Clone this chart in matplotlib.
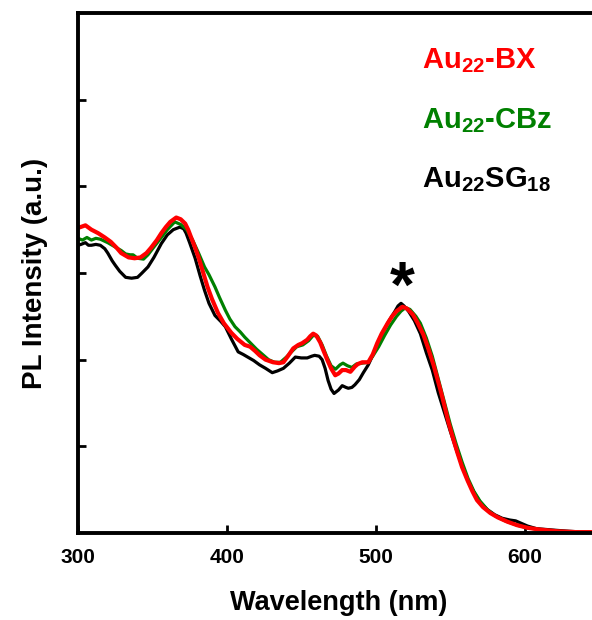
import numpy as np
import matplotlib
matplotlib.use("Agg")
import matplotlib.pyplot as plt

plt.rcParams['font.family'] = ['Liberation Sans', 'DejaVu Sans']
plt.rcParams['font.weight'] = 'bold'
plt.rcParams['mathtext.fontset'] = 'custom'
for k in ['rm', 'it', 'bf', 'sf']:
    plt.rcParams['mathtext.' + k] = 'Liberation Sans:bold'

# wavelength (nm) / intensity (a.u.)
red_wl = [300, 305, 309, 313.5, 318, 322, 326, 329, 334, 338, 342, 346, 349, 353, 356, 359, 362, 366, 369,
          372, 374, 376, 378.5, 381, 384, 387, 390, 394, 398, 403, 407, 412, 415.6, 419, 422, 426, 431, 435,
          438, 441, 444.6, 448, 450.6, 454, 456, 458, 460, 462.7, 465, 467.4, 470, 472.8, 475, 477.5, 480,
          483, 486, 488, 491, 495, 498, 501, 504, 508, 511, 514, 518, 521, 525, 528, 532, 535.5, 539, 543.5,
          546, 549, 552, 555, 558, 561.6, 565, 568, 572, 577, 582, 588.5, 595, 602, 610, 622, 635, 650]
red_int = [3.52, 3.55, 3.50, 3.46, 3.41, 3.36, 3.29, 3.23, 3.18, 3.17, 3.18, 3.23, 3.29, 3.38, 3.46, 3.53,
           3.59, 3.64, 3.62, 3.57, 3.50, 3.41, 3.30, 3.18, 3.01, 2.84, 2.70, 2.54, 2.42, 2.31, 2.24, 2.17,
           2.15, 2.10, 2.05, 2.00, 1.97, 1.96, 1.97, 2.04, 2.13, 2.17, 2.19, 2.23, 2.27, 2.30, 2.28, 2.20,
           2.10, 2.00, 1.90, 1.82, 1.84, 1.88, 1.88, 1.86, 1.92, 1.95, 1.97, 1.97, 2.06, 2.19, 2.30, 2.42,
           2.50, 2.56, 2.61, 2.59, 2.52, 2.43, 2.29, 2.12, 1.93, 1.65, 1.48, 1.27, 1.09, 0.92, 0.76, 0.61,
           0.48, 0.38, 0.30, 0.23, 0.18, 0.13, 0.09, 0.06, 0.04, 0.02, 0.01, 0.01]

green_wl = [300, 303, 306, 309, 312, 315, 320, 325, 329, 332, 335, 337, 340, 344, 347, 351, 356, 360, 365,
            369, 373, 377, 381, 385, 388, 392, 395, 399, 402, 405.5, 409, 412, 416, 420, 424, 428, 432, 436,
            440, 444, 447, 451, 455, 458, 461, 464, 467, 470, 473, 476, 478, 481, 484, 487, 491, 495, 498,
            502, 506, 510, 514, 517, 520, 523, 527, 530, 534, 538, 542, 546, 550, 554, 558, 562, 566, 570,
            575, 580, 587, 595, 602, 610, 622, 635, 650]
green_int = [3.40, 3.38, 3.41, 3.38, 3.40, 3.39, 3.35, 3.30, 3.26, 3.22, 3.21, 3.21, 3.17, 3.16, 3.21,
             3.30, 3.41, 3.50, 3.59, 3.56, 3.50, 3.38, 3.23, 3.07, 2.98, 2.84, 2.72, 2.57, 2.47, 2.38, 2.32,
             2.26, 2.19, 2.12, 2.06, 2.00, 1.97, 1.97, 2.03, 2.10, 2.15, 2.17, 2.22, 2.28, 2.27, 2.17, 2.04,
             1.93, 1.89, 1.94, 1.96, 1.93, 1.91, 1.95, 1.96, 1.97, 2.04, 2.15, 2.28, 2.40, 2.50, 2.56, 2.60,
             2.58, 2.50, 2.42, 2.25, 2.04, 1.78, 1.52, 1.26, 1.03, 0.82, 0.63, 0.48, 0.37, 0.27, 0.20, 0.14,
             0.09, 0.06, 0.04, 0.02, 0.01, 0.01]

black_wl = [300, 302, 305, 307, 309, 312, 315, 318, 320, 323, 325, 328, 332, 336, 340, 343, 347, 351, 356,
            360, 364, 368.5, 371, 372.6, 375, 378.7, 382, 385, 388, 392, 396, 399, 403, 407.6, 411, 414, 418,
            422, 426, 430.5, 434, 438, 442, 446, 450, 454, 457, 459, 462, 464, 466, 468, 470, 472, 475,
            477.5, 480, 481.6, 484, 486, 489, 491.7, 495, 498, 501, 505, 509, 513, 515, 517, 519, 522, 526,
            530, 534, 538, 542, 546, 550, 554, 558, 562, 566, 570, 575, 580, 585, 590, 594, 598, 602, 608,
            615, 622, 630, 640, 650]
black_int = [3.32, 3.33, 3.35, 3.32, 3.32, 3.33, 3.32, 3.28, 3.23, 3.14, 3.09, 3.02, 2.95, 2.94, 2.95,
             3.00, 3.07, 3.18, 3.34, 3.44, 3.50, 3.53, 3.51, 3.46, 3.35, 3.17, 2.97, 2.80, 2.65, 2.51, 2.44,
             2.38, 2.24, 2.09, 2.06, 2.03, 1.99, 1.94, 1.90, 1.85, 1.87, 1.90, 1.96, 2.03, 2.02, 2.02, 2.04,
             2.05, 2.04, 2.00, 1.90, 1.76, 1.66, 1.61, 1.65, 1.70, 1.68, 1.67, 1.68, 1.71, 1.77, 1.85, 1.94,
             2.05, 2.17, 2.32, 2.45, 2.56, 2.62, 2.65, 2.62, 2.56, 2.45, 2.30, 2.08, 1.88, 1.62, 1.40, 1.18,
             0.97, 0.78, 0.60, 0.47, 0.36, 0.27, 0.21, 0.17, 0.15, 0.14, 0.11, 0.08, 0.05, 0.04, 0.03, 0.02,
             0.01, 0.01]

labels = [r'Au$_{22}$-BX', r'Au$_{22}$-CBz', r'Au$_{22}$SG$_{18}$']
colors = ['#ff0000', '#008000', '#000000']

fig = plt.figure(figsize=(5.92, 6.2), dpi=100)
# the frame runs past the right edge of the picture (right spine cut off)
ax = fig.add_axes([78 / 592, 1 - 533 / 620, 521 / 592, 520 / 620])

ax.plot(black_wl, black_int, color='black', lw=2.3)
ax.plot(green_wl, green_int, color='#008000', lw=2.3)
ax.plot(red_wl, red_int, color='#ff0000', lw=3.0)

ax.set_xlim(300, 650)
ax.set_ylim(0, 6)
ax.set_xticks([300, 400, 500, 600])
ax.set_yticks([1, 2, 3, 4, 5])
ax.set_yticklabels([])
ax.tick_params(direction='in', length=5.5, width=2, labelsize=15, pad=11)
for s in ax.spines.values():
    s.set_linewidth(2.8)
ax.spines['right'].set_visible(False)

ax.set_xlabel('Wavelength (nm)', fontsize=19.5, fontweight='bold')
ax.xaxis.set_label_coords(0.5, -0.11)
ax.set_ylabel('PL Intensity (a.u.)', fontsize=20, fontweight='bold')
ax.yaxis.set_label_coords(-0.057, 0.5)

ax.text(518, 2.61, '*', fontsize=46, fontweight='bold', ha='center', va='baseline')

ys = [68, 128, 187]
for lab, c, yy in zip(labels, colors, ys):
    fig.text(422 / 592, 1 - yy / 620, lab, color=c, fontsize=21, fontweight='bold', va='baseline')

fig.savefig('out.png', dpi=100)
